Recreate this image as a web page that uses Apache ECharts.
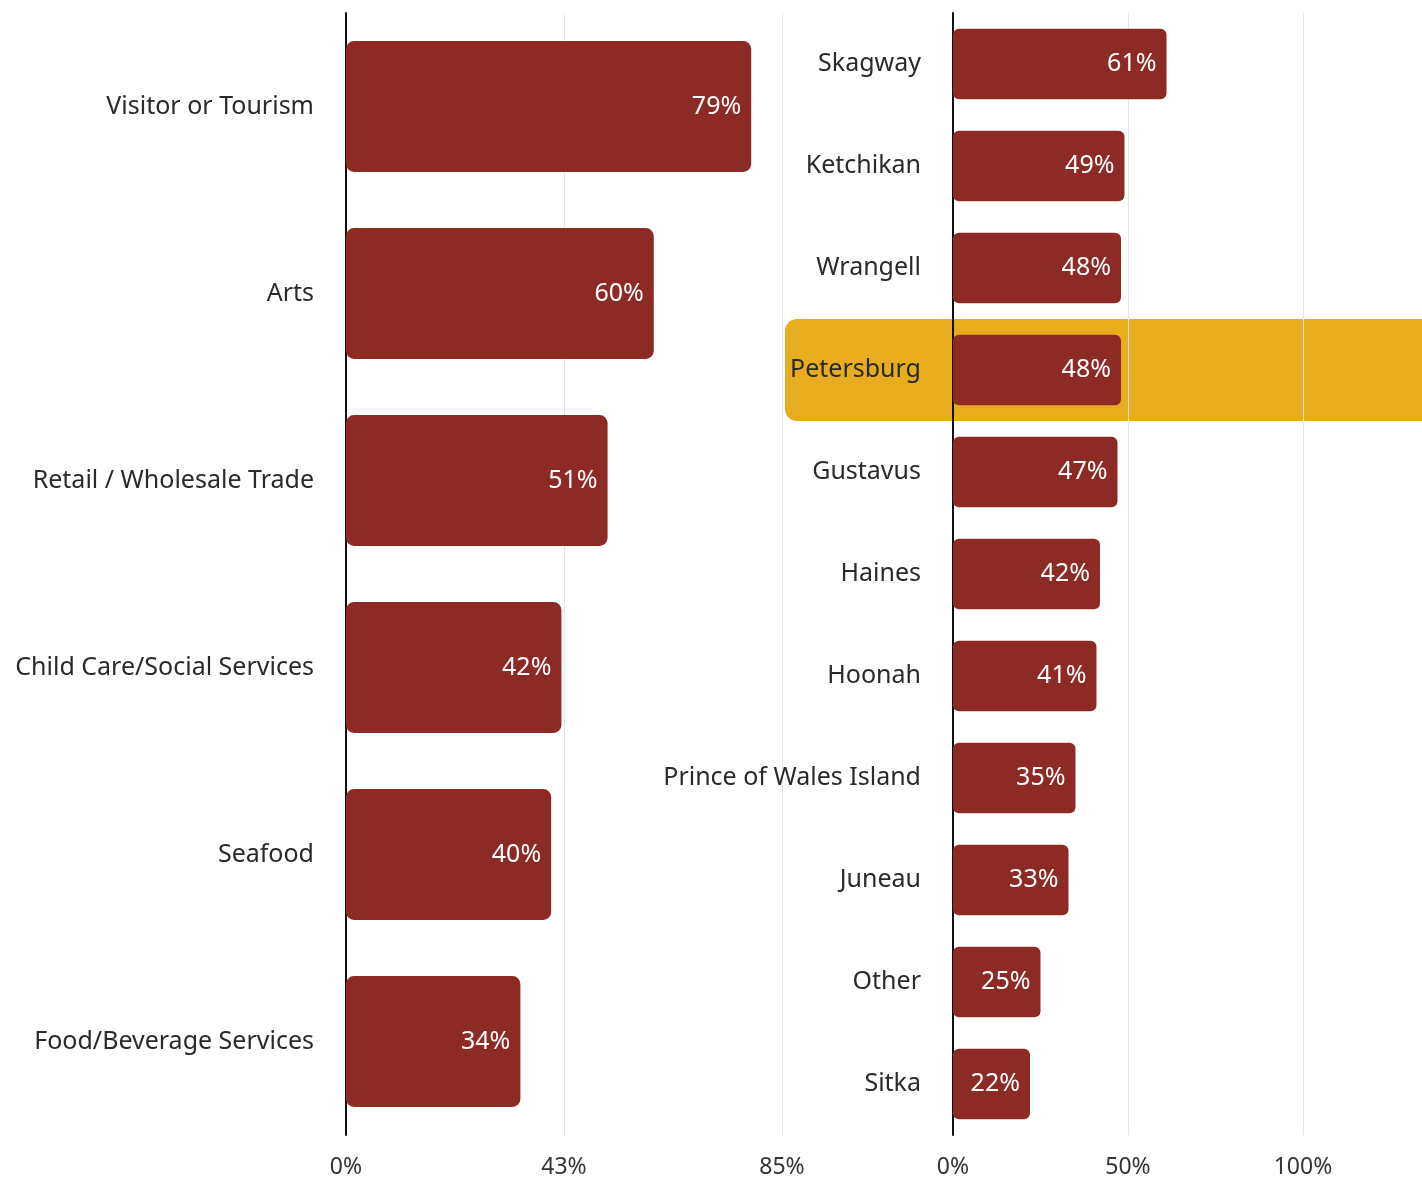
<!DOCTYPE html>
<html>
<head>
<meta charset="utf-8">
<script src="https://cdn.jsdelivr.net/npm/echarts@6/dist/echarts.min.js"></script>
<style>
html,body{margin:0;padding:0;background:#fff;}
#chart{width:1422px;height:1179px;}
</style>
</head>
<body>
<div id="chart"></div>
<script>
// ---- data ----
const leftCategories = ['Visitor or Tourism', 'Arts', 'Retail / Wholesale Trade', 'Child Care/Social Services', 'Seafood', 'Food/Beverage Services'];
const leftValues = [79, 60, 51, 42, 40, 34];
const leftTicks = [0, 42.5, 85];

const rightCategories = ['Skagway', 'Ketchikan', 'Wrangell', 'Petersburg', 'Gustavus', 'Haines', 'Hoonah', 'Prince of Wales Island', 'Juneau', 'Other', 'Sitka'];
const rightValues = [61, 49, 48, 48, 47, 42, 41, 35, 33, 25, 22];
const rightTicks = [0, 50, 100];
const highlightCategory = 'Petersburg';

// ---- style ----
const BAR = '#8E2A24';
const GOLD = '#E8AD1F';
const FONT = '"Noto Sans", "Open Sans", sans-serif';
const chart = echarts.init(document.getElementById('chart'));

const catLabel = {color: '#2a2a2a', fontSize: 25, fontFamily: FONT, margin: 32};
const valLabel = {
  show: true, position: 'insideRight', distance: 10, color: '#fff',
  fontSize: 25, fontFamily: FONT, formatter: p => p.value + '%'
};
const xLab = {color: '#333', fontSize: 23, fontFamily: FONT, margin: 21, formatter: v => Math.round(v) + '%'};

const option = {
  backgroundColor: '#fff',
  animation: false,
  grid: [
    {left: 346, width: 436, top: 13, bottom: 44},
    {left: 953, width: 350, top: 13, bottom: 44},
    {left: 785, right: 0, top: 13, bottom: 44}
  ],
  xAxis: [
    {gridIndex: 0, type: 'value', min: leftTicks[0], max: leftTicks[2], interval: leftTicks[1] - leftTicks[0],
     axisLine: {show: false}, axisTick: {show: false}, axisLabel: xLab,
     splitLine: {show: true, lineStyle: {color: '#e6e6e6', width: 1}}},
    {gridIndex: 1, type: 'value', min: rightTicks[0], max: rightTicks[2], interval: rightTicks[1] - rightTicks[0],
     axisLine: {show: false}, axisTick: {show: false}, axisLabel: xLab,
     splitLine: {show: true, lineStyle: {color: '#e6e6e6', width: 1}}},
    {gridIndex: 2, type: 'value', min: 0, max: 1, show: false}
  ],
  yAxis: [
    {gridIndex: 0, type: 'category', data: leftCategories, inverse: true,
     axisLine: {show: true, lineStyle: {color: '#111', width: 2}}, axisTick: {show: false},
     axisLabel: catLabel, splitLine: {show: false}},
    {gridIndex: 1, type: 'category', data: rightCategories, inverse: true,
     axisLine: {show: true, lineStyle: {color: '#111', width: 2}}, axisTick: {show: false},
     axisLabel: catLabel, splitLine: {show: false}},
    {gridIndex: 2, type: 'category', data: rightCategories, inverse: true, show: false}
  ],
  series: [
    {type: 'bar', xAxisIndex: 2, yAxisIndex: 2, z: -1, barWidth: '100%', silent: true,
     data: rightCategories.map(c => c === highlightCategory ? 1 : null),
     itemStyle: {color: GOLD, borderRadius: [12, 0, 0, 12]}},
    {type: 'bar', xAxisIndex: 0, yAxisIndex: 0, data: leftValues, barWidth: '70%',
     itemStyle: {color: BAR, borderRadius: 8}, label: valLabel},
    {type: 'bar', xAxisIndex: 1, yAxisIndex: 1, data: rightValues, barWidth: '69%',
     itemStyle: {color: BAR, borderRadius: 6}, label: valLabel}
  ]
};
chart.setOption(option);
</script>
</body>
</html>
